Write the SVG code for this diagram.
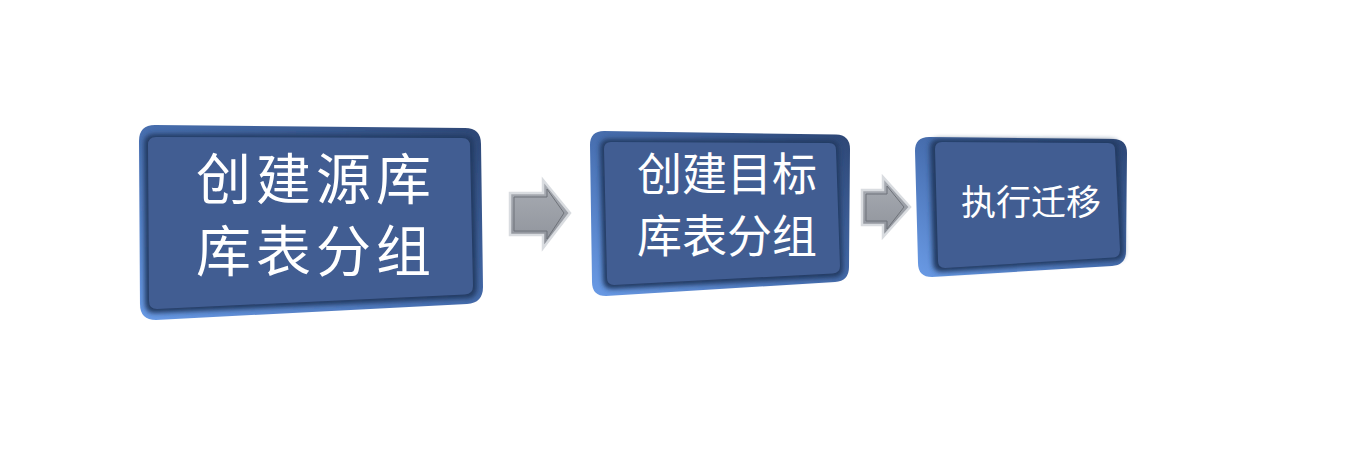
<svg xmlns="http://www.w3.org/2000/svg" width="1366" height="456" viewBox="0 0 1366 456">
<defs>
<linearGradient id="rim" x1="0" y1="1" x2="1" y2="0">
<stop offset="0" stop-color="#6a9be6"/>
<stop offset="0.45" stop-color="#4a72b4"/>
<stop offset="1" stop-color="#2d4674"/>
</linearGradient>
<linearGradient id="arrowFill" x1="0" y1="0" x2="0" y2="1">
<stop offset="0" stop-color="#a9adb4"/>
<stop offset="1" stop-color="#8e929a"/>
</linearGradient>
<filter id="soft" x="-10%" y="-10%" width="120%" height="120%">
<feGaussianBlur stdDeviation="2.5"/>
</filter>
</defs>
<style>
.rim{fill:url(#rim);}
.bevel{fill:#243a62;filter:url(#soft);}
.face{fill:#415d92;}
.lbl{fill:#ffffff;font-family:"Liberation Sans","Noto Sans CJK SC",sans-serif;text-anchor:middle;}
.arrow{fill:url(#arrowFill);stroke:#d9dce0;stroke-width:2.5;stroke-linejoin:miter;}
.arrowIn{fill:none;stroke:#6f737a;stroke-width:1;}
</style>
<rect width="1366" height="456" fill="#ffffff"/>
<g id="connectors">
<polygon class="arrow" points="510,193 543,193 543,180 570,213 543,248 543,235 510,235"/>
<polygon class="arrowIn" points="514,197 547,197 547,189 564,213 547,239 547,231 514,231"/>
<polygon class="arrow" points="862,190 883,190 883,177 910,207 883,237 883,225 862,225"/>
<polygon class="arrowIn" points="866,194 887,194 887,186 904,207 887,229 887,221 866,221"/>
</g>
<g id="node1">
<path class="rim" d="M155,125 L465,128 Q481,128 481,144 L483,287 Q483,303 467,304 L156,320 Q140,320 140,304 L139,141 Q139,125 155,125 Z"/>
<path class="bevel" d="M154,134 L464,135 Q474,135 474,145 L477,288 Q477,298 467,298.5 L155,313 Q145,313 145,303 L144,144 Q144,134 154,134 Z"/>
<path class="face" d="M156,137 L462,138 Q470,138 470,146 L473,286 Q473,294 465,294.5 L157,309 Q149,309 149,301 L148,145 Q148,137 156,137 Z"/>
<text class="lbl" font-size="55" letter-spacing="5"><tspan x="316" y="199">创建源库</tspan><tspan x="316" y="271">库表分组</tspan></text>
</g>
<g id="node2">
<path class="rim" d="M604,131 L836,134.5 Q850,135 850,149 L849,267 Q849,281 835,282 L606,296 Q592,296 592,282 L590,145 Q590,131 604,131 Z"/>
<path class="bevel" d="M609,139 L830,140 Q839,140 839,149 L843,268 Q843,277 834,277.5 L612,289 Q603,289 603,280 L600,148 Q600,139 609,139 Z"/>
<path class="face" d="M611,142 L829,143 Q836,143 836,150 L840,266 Q840,273 833,273.5 L614,285 Q607,285 607,278 L604,149 Q604,142 611,142 Z"/>
<text class="lbl" font-size="45"><tspan x="727" y="191">创建目标</tspan><tspan x="727" y="253">库表分组</tspan></text>
</g>
<g id="node3">
<path class="rim" d="M929,137 L1113,139 Q1127,139 1127,153 L1126,251 Q1126,265 1112,266 L932,277 Q918,277 918,263 L915,151 Q915,137 929,137 Z"/>
<path class="bevel" d="M939,139 L1110,140 Q1119,140 1119,149 L1124,251 Q1124,260 1115,260.5 L942,272 Q933,272 933,263 L930,148 Q930,139 939,139 Z"/>
<path class="face" d="M942,142 L1108,143 Q1115,143 1115,150 L1120,250 Q1120,257 1113,257.5 L945,268 Q938,268 938,261 L935,149 Q935,142 942,142 Z"/>
<text class="lbl" x="1031" y="215" font-size="35">执行迁移</text>
</g>
</svg>
